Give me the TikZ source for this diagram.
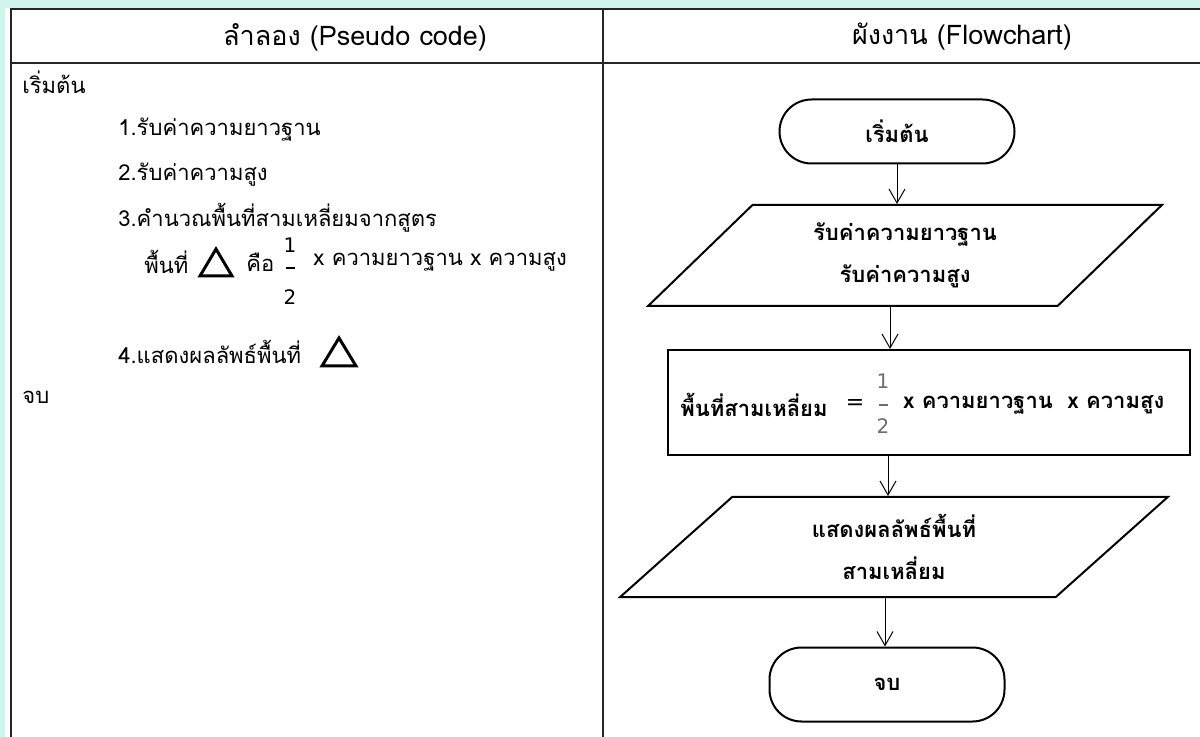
\documentclass[tikz,border=0pt]{standalone}
\usepackage{fontspec}
\setmainfont{DejaVu Sans}
\newfontfamily\thai[Script=Thai]{Loma}
\usetikzlibrary{shapes.geometric,arrows.meta}
\definecolor{bgcyan}{RGB}{208,245,238}
\definecolor{fracgray}{RGB}{110,110,110}
\begin{document}
\begin{tikzpicture}[x=0.5pt,y=-0.5pt,
  gridline/.style={draw=black!85,line width=1pt},
  body/.style={font=\thai\fontsize{11}{13}\selectfont,anchor=west,inner sep=0pt},
  head/.style={font=\thai\fontsize{13.5}{16}\selectfont,inner sep=0pt},
  fc/.style={font=\thai\bfseries\fontsize{11}{13}\selectfont},
  term/.style={fc,draw,line width=1pt,rounded corners=16pt,minimum width=117.5pt},
  io/.style={fc,trapezium,trapezium stretches=true,draw,line width=1pt,align=center,inner sep=0pt},
  proc/.style={draw,line width=1pt,minimum width=261pt,minimum height=52.5pt},
  arr/.style={-{Straight Barb[length=7pt,width=8pt]},line width=0.5pt},
  tri/.style={draw,line width=1.5pt,line join=miter},
  fnum/.style={inner sep=0pt,font=\fontsize{10}{12}\selectfont}
]
\useasboundingbox (0,0) rectangle (1200,737);
\fill[bgcyan] (0,0) rectangle (1200,737);
\fill[white] (5,8) rectangle (1200,737);
% table
\draw[gridline] (1200,9) -- (11,9) -- (11,737);
\draw[gridline] (11,63) -- (1200,63);
\draw[gridline] (603,9) -- (603,737);
\node[head] (h1) at (355,37) {ลำลอง (Pseudo code)};
\node[head] (h2) at (962,37) {ผังงาน (Flowchart)};
% pseudo code
\node[body] (p0) at (22,82) {เริ่มต้น};
\node[body] (p1) at (118,130) {1.รับค่าความยาวฐาน};
\node[body] (p2) at (118,175) {2.รับค่าความสูง};
\node[body] (p3) at (118,218) {3.คำนวณพื้นที่สามเหลี่ยมจากสูตร};
\node[body] (p4a) at (144,262) {พื้นที่};
\draw[tri] (200,276) -- (232,276) -- (216,249) -- cycle;
\node[body] (p4b) at (246,262) {คือ};
\node[fnum] (pf1) at (290,245) {1};
\draw[line width=0.6pt] (286,268) -- (295,268);
\node[fnum] (pf2) at (290,297) {2};
\node[body] (p4c) at (313,262) {x ความยาวฐาน x ความสูง};
\node[body] (p5) at (118,352) {4.แสดงผลลัพธ์พื้นที่};
\draw[tri] (322,366) -- (356,366) -- (339,338) -- cycle;
\node[body] (p6) at (22,397) {จบ};
% flowchart
\node[term,minimum height=32pt] (start) at (897,131.5) {เริ่มต้น};
\node[io,trapezium left angle=46,trapezium right angle=134,minimum width=257pt,minimum height=50.5pt] (in1) at (905,255.5) {รับค่าความยาวฐาน\\[8pt]รับค่าความสูง};
\node[proc] (calc) at (929,402.5) {};
\node[inner sep=0pt,anchor=west,fc] (c1) at (680,405) {พื้นที่สามเหลี่ยม};
\node[inner sep=0pt,font=\fontsize{11}{13}\selectfont] (c2) at (855,405) {=};
\node[fnum,text=fracgray] (cf1) at (883,381) {1};
\draw[fracgray,line width=0.6pt] (879,405) -- (888,405);
\node[fnum,text=fracgray] (cf2) at (883,426) {2};
\node[inner sep=0pt,anchor=west,fc] (c3) at (903,405) {x ความยาวฐาน\ \ x ความสูง};
\node[io,trapezium left angle=49,trapezium right angle=131,minimum width=274pt,minimum height=50pt] (out) at (894,547) {แสดงผลลัพธ์พื้นที่\\[8pt]สามเหลี่ยม};
\node[term,minimum height=37pt] (stop) at (887,684.5) {จบ};
\draw[arr] (start.south) -- (start.south |- in1.north);
\draw[arr] (in1.south -| 890,0) -- (calc.north -| 890,0);
\draw[arr] (calc.south -| 888,0) -- (out.north -| 888,0);
\draw[arr] (out.south -| 885,0) -- (stop.north -| 885,0);
\end{tikzpicture}
\end{document}
